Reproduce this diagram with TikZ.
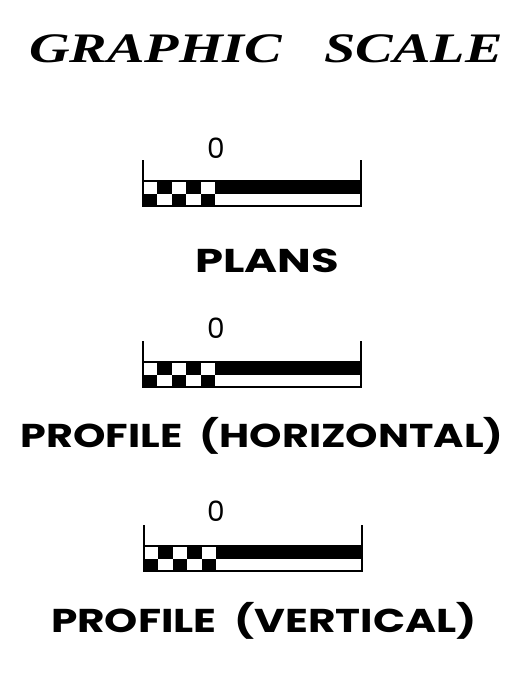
\documentclass[tikz,border=0pt]{standalone}
\usepackage{fontspec}
\setmainfont{Liberation Serif}
\newfontfamily\labelfont{Poppins}
\begin{document}
\begin{tikzpicture}[x=1pt,y=-1pt,
  barline/.style={line width=1.6pt,black},
  zerolab/.style={font=\labelfont\fontsize{28}{28}\selectfont,inner sep=0pt,anchor=center},
  caplab/.style={font=\labelfont\bfseries\fontsize{33}{33}\selectfont,inner sep=0pt,anchor=base},
  titlelab/.style={font=\bfseries\itshape\fontsize{42}{42}\selectfont,inner sep=0pt,anchor=base},
  gscalebar/.pic={
    \foreach \i in {0,...,4}{
      \pgfmathtruncatemacro{\odd}{mod(\i,2)}
      \ifnum\odd=1
        \fill[black] ({\i*14.4},0) rectangle ({(\i+1)*14.4},12.5);
      \else
        \fill[black] ({\i*14.4},12.5) rectangle ({(\i+1)*14.4},25);
      \fi
    }
    \fill[black] (72,0) rectangle (218,12.5);
    \draw[barline] (0,0) rectangle (218,25);
    \draw[barline] (72,12.5) -- (218,12.5);
    \draw[barline] (0,-21) -- (0,25);
    \draw[barline] (218,-21) -- (218,25);
  }]
\useasboundingbox (0,0) rectangle (524,682);
\node[titlelab] (title) at (266,63) {\scalebox{1.34}[1]{GRAPHIC\ \ \ SCALE}};
% scale 1
\node[zerolab] (z1) at (216,148) {0};
\pic (bar1) at (143,181) {gscalebar};
\node[caplab] (plans) at (267,272) {\scalebox{1.36}[1]{PLANS}};
% scale 2
\node[zerolab] (z2) at (216,328) {0};
\pic (bar2) at (143,362) {gscalebar};
\node[caplab] (profh) at (262,447) {\scalebox{1.25}[1]{PROFILE\ \ (HORIZONTAL)}};
% scale 3
\node[zerolab] (z3) at (216,511) {0};
\pic (bar3) at (144,546) {gscalebar};
\node[caplab] (profv) at (264,632) {\scalebox{1.28}[1]{PROFILE\ \ (VERTICAL)}};
\end{tikzpicture}
\end{document}
